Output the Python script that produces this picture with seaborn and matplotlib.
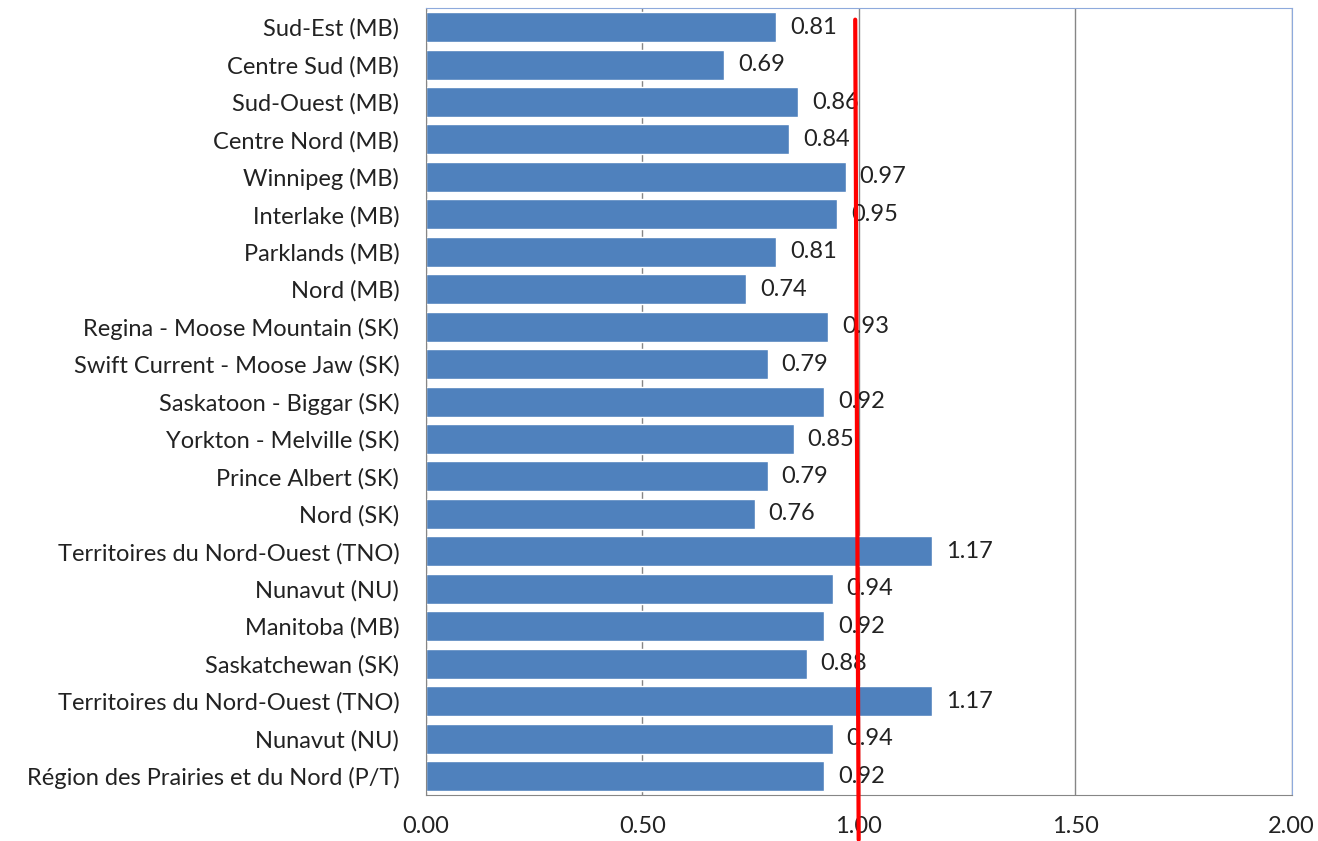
import numpy as np
import pandas as pd
import seaborn as sns
import matplotlib.pyplot as plt

regions = ['Sud-Est (MB)', 'Centre Sud (MB)', 'Sud-Ouest (MB)', 'Centre Nord (MB)',
           'Winnipeg (MB)', 'Interlake (MB)', 'Parklands (MB)', 'Nord (MB)',
           'Regina - Moose Mountain (SK)', 'Swift Current - Moose Jaw (SK)',
           'Saskatoon - Biggar (SK)', 'Yorkton - Melville (SK)', 'Prince Albert (SK)',
           'Nord (SK)', 'Territoires du Nord-Ouest (TNO)', 'Nunavut (NU)',
           'Manitoba (MB)', 'Saskatchewan (SK)', 'Territoires du Nord-Ouest (TNO)',
           'Nunavut (NU)', 'Région des Prairies et du Nord (P/T)']
values = [0.81, 0.69, 0.86, 0.84, 0.97, 0.95, 0.81, 0.74, 0.93, 0.79, 0.92,
          0.85, 0.79, 0.76, 1.17, 0.94, 0.92, 0.88, 1.17, 0.94, 0.92]
xticks = [0.0, 0.5, 1.0, 1.5, 2.0]

# duplicate names -> use row index as y, then relabel
df = pd.DataFrame({'row': [str(i) for i in range(len(regions))], 'value': values})

sns.set_style('white')
plt.rcParams['font.family'] = ['Lato', 'DejaVu Sans']

fig, ax = plt.subplots(figsize=(13.18, 8.41), dpi=100)
fig.subplots_adjust(left=0.323, right=0.980, top=0.990, bottom=0.055)

sns.barplot(data=df, x='value', y='row', orient='h', color='#4F81BD',
            saturation=1, width=0.8, ax=ax)

ax.set_xlim(0, 2)
ax.set_ylim(len(regions) - 0.5, -0.5)
ax.set_xticks(xticks)
ax.set_xticklabels([f'{t:.2f}' for t in xticks], fontsize=17, color='#222222')
ax.set_yticks(range(len(regions)))
ax.set_yticklabels(regions, fontsize=17, color='#222222')
ax.set_xlabel('')
ax.set_ylabel('')

ax.set_yticks(np.arange(-0.5, len(regions), 1), minor=True)
ax.tick_params(axis='y', which='major', length=0, pad=19)
ax.tick_params(axis='y', which='minor', length=6, color='#868686', width=1)
ax.tick_params(axis='x', which='major', length=8, color='#868686', width=1, pad=7)

ax.xaxis.grid(True, color='#868686', linewidth=1)
ax.set_axisbelow(True)

for side in ['left', 'bottom']:
    ax.spines[side].set_color('#868686')
for side in ['top', 'right']:
    ax.spines[side].set_color('#8EAADC')

for i, v in enumerate(values):
    ax.annotate(f'{v:.2f}', xy=(v, i), xytext=(10, 0), textcoords='offset points',
                va='center', ha='left', fontsize=17, color='#222222')

# red reference line at 1.0
ax.plot([0.992, 1.0], [-0.2, 21.7], color='red', linewidth=3, clip_on=False, zorder=5)

fig.savefig('out.png', dpi=100)
